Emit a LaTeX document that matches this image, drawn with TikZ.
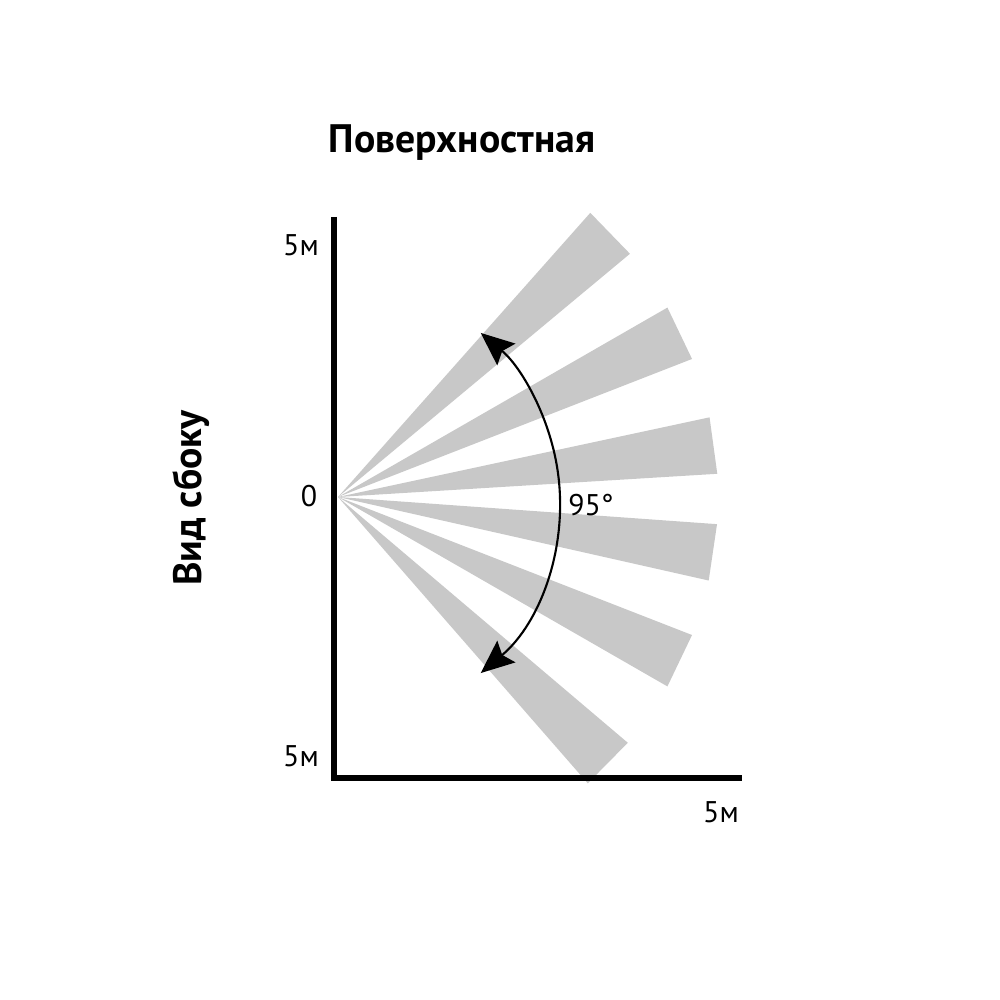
\documentclass[tikz,border=0pt]{standalone}
\usepackage{fontspec}
\setmainfont{PT Sans}
\usetikzlibrary{arrows.meta}
\definecolor{beamgray}{RGB}{200,200,200}

\begin{document}
\begin{tikzpicture}[thick, beam/.style = {fill=beamgray}, axis/.style = {line width=1.7pt}, lbl/.style = {inner sep=0pt, font=\fontsize{8.5}{10}\selectfont}, head/.style = {inner sep=0pt, font=\bfseries\fontsize{11.3}{13}\selectfont}]
        \useasboundingbox (-3.38,-5.03) rectangle (6.62,4.97);
        \coordinate (o) at (0,0);
        \coordinate (top) at (-0.04,2.80);
        \coordinate (corner) at (-0.04,-2.81);
        \coordinate (right) at (4.04,-2.81);

        \fill[beam] (o) -- (39.8:3.8) -- (48.4:3.8) -- cycle;
        \fill[beam] (o) -- (21.3:3.8) -- (29.9:3.8) -- cycle;
        \fill[beam] (o) -- (3.5:3.8) -- (12.1:3.8) -- cycle;
        \fill[beam] (o) -- (-12.7:3.8) -- (-4.1:3.8) -- cycle;
        \fill[beam] (o) -- (-29.9:3.8) -- (-21.3:3.8) -- cycle;
        \fill[beam] (o) -- (-48.9:3.8) -- (-40.3:3.8) -- cycle;

        \draw[line width=0.6pt, {Stealth[length=9.5pt,width=8pt,inset=1.5pt]}-{Stealth[length=9.5pt,width=8pt,inset=1.5pt]}] ([shift={(0,-0.06)}]-50:2.22) arc[start angle=-50, end angle=50, radius=2.22];

        \draw[axis] (top) -- (corner) -- (right);

        \node[head] (title) at (1.24,3.54) {Поверхностная};
        \node[head, rotate=90] (side) at (-1.47,-0.01) {Вид сбоку};
        \node[lbl] (y_top) at (-0.37,2.52) {5м};
        \node[lbl] (y_bot) at (-0.37,-2.59) {5м};
        \node[lbl] (x_end) at (3.83,-3.15) {5м};
        \node[lbl] (zero) at (-0.29,0.01) {0};
        \node[lbl] (angle) at (2.53,-0.08) {95°};
    \end{tikzpicture}
\end{document}
